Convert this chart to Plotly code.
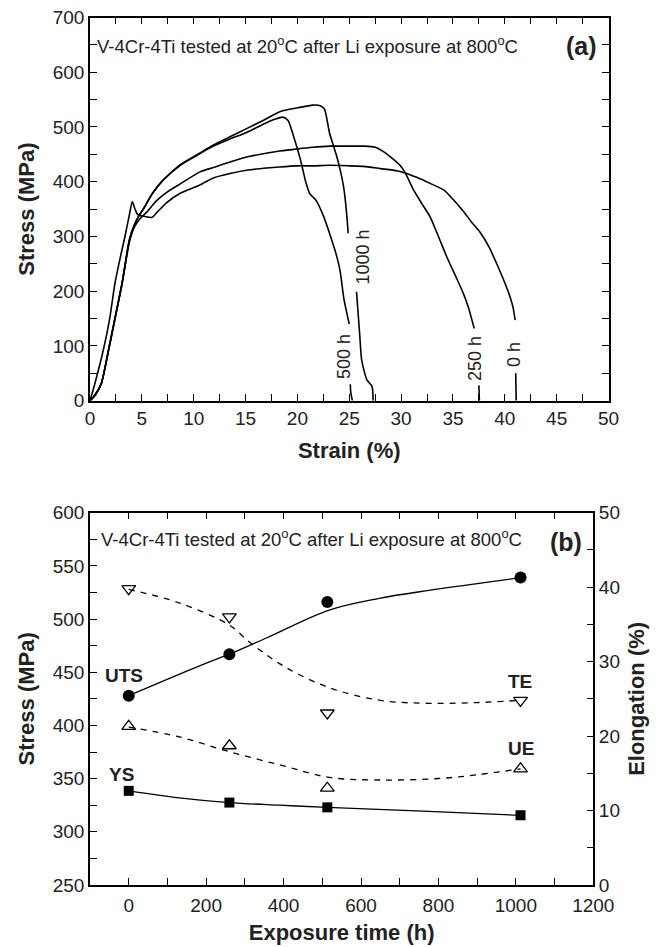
import plotly.graph_objects as go

# ---------------- (a) stress-strain curves ----------------
s0_x = [0, 0.48, 1.29, 1.9, 2.41, 2.9, 3.37, 3.8, 4.08, 4.3, 4.6, 5.2, 6.0, 6.5, 7.4, 8.7, 10.6, 11.9, 13.5, 15.1, 17.0, 18.3,
        20.0, 21.5, 23.1, 25.0, 26.4, 28.0, 29.6, 30.4, 31.5, 32.8, 34.1, 35.0, 36.0, 36.8, 37.6, 38.5, 39.2, 39.9, 40.5,
        40.8, 41.0, None, 41.05, 41.1]
s0_y = [0, 32, 93, 150, 215, 260, 300, 340, 364, 352, 340, 337, 335, 345, 362, 379, 394, 407, 415, 421, 425, 427,
        429, 429, 430, 429, 428, 424, 420, 416, 408, 397, 385, 368, 346, 326, 308, 280, 251, 220, 190,
        170, 147, None, 50, 0]

s250_x = [0, 0.5, 1.1, 1.8, 2.5, 3.1, 3.8, 4.3, 4.8, 5.5, 6.4, 7.5, 8.7, 10.6, 11.9, 13.5, 15.1, 16.7, 18.3, 20.0, 21.5,
          23.1, 24.8, 26.4, 27.5, 28.3, 29.0, 29.9, 30.4, 31.2, 32.0, 32.8, 33.6, 34.4, 35.2, 36.0, 36.5, 37.05, None,
          37.5, 37.55]
s250_y = [0, 12, 32, 95, 160, 215, 290, 318, 332, 345, 365, 382, 396, 418, 426, 436, 445, 451, 456, 460, 463,
          465, 465, 465, 463, 455, 445, 430, 416, 385, 360, 336, 300, 263, 230, 196, 170, 132, None,
          28, 0]

s500_x = [0, 0.5, 1.1, 1.8, 2.5, 3.1, 3.8, 4.3, 4.7, 5.2, 6.0, 7.0, 8.7, 10.3, 11.9, 13.5, 15.1, 16.7, 17.8, 18.6, 19.1,
          19.6, 20.3, 20.8, 21.2, 21.8, 22.5, 23.2, 23.7, 24.1, 24.5, 25.0, None, 25.1, 25.15, 25.3]
s500_y = [0, 10, 32, 93, 158, 215, 294, 322, 337, 352, 378, 402, 430, 448, 465, 478, 490, 505, 514, 518, 512,
          485, 440, 400, 378, 366, 338, 300, 270, 239, 184, 140, None, 30, 15, 0]

s1000_x = [0, 0.5, 1.1, 1.8, 2.5, 3.1, 3.8, 4.3, 4.7, 5.2, 6.0, 7.0, 8.7, 10.3, 11.9, 13.5, 15.1, 16.7, 18.3, 20.0, 21.5,
           22.2, 22.6, 22.8, 23.1, 23.8, 24.4, 24.6, 24.8, 24.9, None, 25.7, 26.0, 26.2, 26.7, 27.2, 27.3]
s1000_y = [0, 10, 32, 93, 158, 215, 294, 322, 337, 352, 378, 402, 431, 449, 467, 482, 497, 512, 528, 535, 540,
           539, 533, 519, 489, 446, 397, 370, 330, 306, None, 199, 123, 74, 38, 26, 0]

curve_labels = ["0 h", "250 h", "500 h", "1000 h"]
label_x = [40.9, 37.2, 24.43, 26.3]
label_y = [83.5, 77.5, 80.4, 263]

# ---------------- (b) properties vs exposure time ----------------
hours = [0, 260, 513, 1012]
uts = [428, 467, 516, 539]
ys = [338.5, 327.5, 323, 315.5]
te = [39.8, 36.0, 23.1, 24.8]
ue = [21.3, 18.7, 13.0, 15.6]

uts_fit_x = [0, 183, 260, 354, 518, 647, 776, 905, 1012]
uts_fit_y = [428, 456, 467, 482, 508.5, 519.5, 527, 533.5, 539]
ys_fit_x = [0, 130, 260, 390, 513, 760, 1012]
ys_fit_y = [338.5, 332, 327.5, 325, 323, 319.5, 315.5]
te_fit_x = [0, 130, 260, 310, 400, 518, 650, 775, 900, 1012]
te_fit_y = [39.7, 37.9, 34.9, 32.7, 29.4, 26.5, 24.8, 24.4, 24.5, 24.8]
ue_fit_x = [0, 130, 260, 400, 518, 650, 800, 900, 1012]
ue_fit_y = [21.2, 19.9, 17.9, 16.0, 14.45, 14.1, 14.3, 14.8, 15.6]

FONT = "Liberation Sans, Arial, sans-serif"
TICK = 19
TITLE = 22
BLK = "black"
TXT = "#222"

fig = go.Figure()

for xs, ysv in [(s0_x, s0_y), (s250_x, s250_y), (s500_x, s500_y), (s1000_x, s1000_y)]:
    fig.add_trace(go.Scatter(x=xs, y=ysv, mode="lines",
                             line=dict(color=BLK, width=1.6, shape="spline", smoothing=0.6),
                             connectgaps=False, xaxis="x", yaxis="y", showlegend=False))

# fits
fig.add_trace(go.Scatter(x=uts_fit_x, y=uts_fit_y, mode="lines", line=dict(color=BLK, width=1.3, shape="spline"),
                         xaxis="x2", yaxis="y2", showlegend=False))
fig.add_trace(go.Scatter(x=ys_fit_x, y=ys_fit_y, mode="lines", line=dict(color=BLK, width=1.3, shape="spline"),
                         xaxis="x2", yaxis="y2", showlegend=False))
fig.add_trace(go.Scatter(x=te_fit_x, y=te_fit_y, mode="lines",
                         line=dict(color=BLK, width=1.3, shape="spline", dash="6px,6px"),
                         xaxis="x2", yaxis="y3", showlegend=False))
fig.add_trace(go.Scatter(x=ue_fit_x, y=ue_fit_y, mode="lines",
                         line=dict(color=BLK, width=1.3, shape="spline", dash="6px,6px"),
                         xaxis="x2", yaxis="y3", showlegend=False))
# markers
fig.add_trace(go.Scatter(x=hours, y=uts, mode="markers", marker=dict(symbol="circle", size=12, color=BLK),
                         xaxis="x2", yaxis="y2", showlegend=False))
fig.add_trace(go.Scatter(x=hours, y=ys, mode="markers", marker=dict(symbol="square", size=10, color=BLK),
                         xaxis="x2", yaxis="y2", showlegend=False))
fig.add_trace(go.Scatter(x=hours, y=te, mode="markers",
                         marker=dict(symbol="triangle-down-open", size=12, color=BLK, line=dict(width=1.3)),
                         xaxis="x2", yaxis="y3", showlegend=False))
fig.add_trace(go.Scatter(x=hours, y=ue, mode="markers",
                         marker=dict(symbol="triangle-up-open", size=12, color=BLK, line=dict(width=1.3)),
                         xaxis="x2", yaxis="y3", showlegend=False))

W, H = 661, 947


def ax(**kw):
    base = dict(showline=True, linecolor=BLK, linewidth=1.5, ticks="inside", ticklen=7, tickwidth=1.3,
                tickcolor=BLK, showgrid=False, zeroline=False, automargin=False,
                tickfont=dict(family=FONT, size=TICK, color=TXT))
    base.update(kw)
    return base


annos = []
note = "V-4Cr-4Ti tested at 20<sup>o</sup>C after Li exposure at 800<sup>o</sup>C"
annos.append(dict(x=0.48, y=650, xref="x", yref="y", text=note, showarrow=False, xanchor="left",
                  yanchor="middle", font=dict(family=FONT, size=18.5, color=TXT)))
annos.append(dict(x=47.35, y=648, xref="x", yref="y", text="<b>(a)</b>", showarrow=False,
                  font=dict(family=FONT, size=25, color=TXT)))
for t, lx, ly in zip(curve_labels, label_x, label_y):
    annos.append(dict(x=lx, y=ly, xref="x", yref="y", text=t, showarrow=False, textangle=-90,
                      font=dict(family=FONT, size=18, color=TXT)))
annos.append(dict(x=-75.6, y=575.9, xref="x2", yref="y2", text=note, showarrow=False, xanchor="left",
                  yanchor="middle", font=dict(family=FONT, size=18.5, color=TXT)))
annos.append(dict(x=1128.8, y=572.7, xref="x2", yref="y2", text="<b>(b)</b>", showarrow=False,
                  font=dict(family=FONT, size=25, color=TXT)))
for t, lx, ly in [("UTS", -12, 446.9), ("YS", -19, 354.2), ("TE", 1011.6, 441), ("UE", 1013, 378.4)]:
    annos.append(dict(x=lx, y=ly, xref="x2", yref="y2", text="<b>%s</b>" % t, showarrow=False,
                      font=dict(family=FONT, size=19, color=TXT)))

fig.update_layout(
    width=W, height=H, margin=dict(l=0, r=0, t=0, b=0), plot_bgcolor="white", paper_bgcolor="white",
    font=dict(family=FONT, color=TXT),
    xaxis=ax(domain=[90 / W, 608.5 / W], range=[0, 50], dtick=5, tick0=0, mirror="ticks", anchor="y",
             minor=dict(dtick=2.5, ticks="inside", ticklen=7, tickcolor=BLK, tickwidth=1.3),
             title=dict(text="<b>Strain (%)</b>", font=dict(family=FONT, size=TITLE, color=TXT), standoff=14)),
    yaxis=ax(domain=[1 - 400.7 / H, 1 - 17.5 / H], range=[0, 700], dtick=100, tick0=0, mirror="ticks", anchor="x",
             minor=dict(dtick=50, ticks="inside", ticklen=7, tickcolor=BLK, tickwidth=1.3),
             title=dict(text="<b>Stress (MPa)</b>", font=dict(family=FONT, size=TITLE, color=TXT), standoff=12)),
    xaxis2=ax(domain=[90 / W, 593.3 / W], range=[-100, 1200], dtick=200, tick0=0, mirror="ticks", anchor="y2",
              ticklabelstandoff=2,
              minor=dict(dtick=100, ticks="inside", ticklen=7, tickcolor=BLK, tickwidth=1.3),
              title=dict(text="<b>Exposure time (h)</b>", font=dict(family=FONT, size=TITLE, color=TXT),
                         standoff=10)),
    yaxis2=ax(domain=[1 - 885 / H, 1 - 512.7 / H], range=[250, 600], dtick=50, tick0=250, anchor="x2",
              minor=dict(dtick=25, ticks="inside", ticklen=7, tickcolor=BLK, tickwidth=1.3),
              title=dict(text="<b>Stress (MPa)</b>", font=dict(family=FONT, size=TITLE, color=TXT), standoff=12)),
    yaxis3=ax(domain=[1 - 885 / H, 1 - 512.7 / H], range=[0, 50], dtick=10, tick0=0, anchor="x2",
              overlaying="y2", side="right",
              minor=dict(dtick=5, ticks="inside", ticklen=7, tickcolor=BLK, tickwidth=1.3),
              title=dict(text="<b>Elongation (%)</b>", font=dict(family=FONT, size=TITLE, color=TXT),
                         standoff=10)),
    annotations=annos,
)

fig.write_html("out.html")
